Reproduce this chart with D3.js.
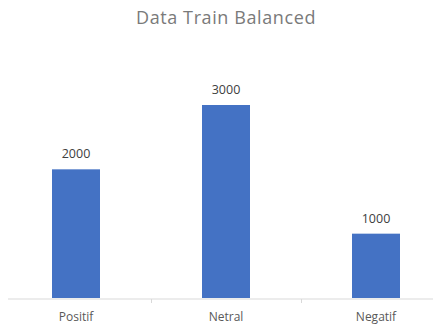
<!DOCTYPE html>
<html>
<head>
<meta charset="utf-8">
<script src="https://cdn.jsdelivr.net/npm/d3@7"></script>
<style>
  body { margin: 0; background: #fff; }
  svg { display: block; }
</style>
</head>
<body>
<script>
const categories = ["Positif", "Netral", "Negatif"];
const values = [2000, 3000, 1000];
const title = "Data Train Balanced";

const width = 433;
const height = 330;
const baseline = 298;
const font = "'Open Sans', sans-serif";

const svg = d3
  .select("body")
  .append("svg")
  .attr("width", width)
  .attr("height", height);

const xScale = d3
  .scaleBand()
  .domain(categories)
  .range([1, 451])
  .paddingInner(0)
  .paddingOuter(0);

const yScale = d3.scaleLinear().domain([0, 3000]).range([baseline, 105]);

const barWidth = 48;

// bars
svg
  .selectAll("rect.bar")
  .data(categories)
  .enter()
  .append("rect")
  .attr("class", "bar")
  .attr("x", (d) => xScale(d) + xScale.bandwidth() / 2 - barWidth / 2)
  .attr("y", (d, i) => yScale(values[i]))
  .attr("width", barWidth)
  .attr("height", (d, i) => baseline - yScale(values[i]))
  .attr("fill", "#4472C4");

// value labels
svg
  .selectAll("text.value")
  .data(categories)
  .enter()
  .append("text")
  .attr("class", "value")
  .attr("x", (d) => xScale(d) + xScale.bandwidth() / 2)
  .attr("y", (d, i) => yScale(values[i]) - 11)
  .attr("text-anchor", "middle")
  .attr("font-family", font)
  .attr("font-size", "12.5px")
  .attr("fill", "#404040")
  .text((d, i) => values[i]);

// x axis
const xAxis = d3.axisBottom(xScale).tickSize(0).tickPadding(13);
const axisG = svg
  .append("g")
  .attr("transform", "translate(0," + (baseline + 1) + ")")
  .call(xAxis);
axisG.select(".domain").attr("stroke", "#d9d9d9").attr("d", "M8,0H433");
axisG
  .selectAll("text")
  .attr("font-family", font)
  .attr("font-size", "12px")
  .attr("fill", "#595959");

// category boundary ticks
svg
  .selectAll("line.sep")
  .data(categories.slice(1))
  .enter()
  .append("line")
  .attr("class", "sep")
  .attr("x1", (d) => xScale(d) + 0.5)
  .attr("x2", (d) => xScale(d) + 0.5)
  .attr("y1", baseline + 1)
  .attr("y2", baseline + 5)
  .attr("stroke", "#d9d9d9");

// title
svg
  .append("text")
  .attr("x", 226)
  .attr("y", 24)
  .attr("text-anchor", "middle")
  .attr("font-family", font)
  .attr("font-size", "18px")
  .attr("letter-spacing", "0.6px")
  .attr("fill", "#7a7a7a")
  .text(title);
</script>
</body>
</html>
